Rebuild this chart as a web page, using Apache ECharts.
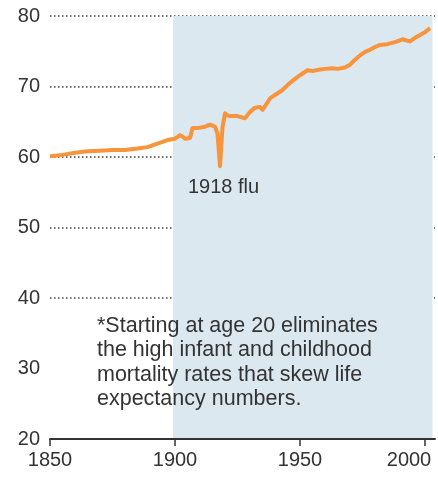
<!DOCTYPE html>
<html>
<head>
<meta charset="utf-8">
<script src="https://cdn.jsdelivr.net/npm/echarts@6/dist/echarts.min.js"></script>
<style>
  html, body { margin: 0; padding: 0; background: #fff; }
  #chart { width: 438px; height: 479px; }
</style>
</head>
<body>
<div id="chart"></div>
<script>
// life expectancy at age 20 (years)
var years = [1850, 1855, 1860, 1865, 1870, 1875, 1880, 1885, 1889, 1893, 1897, 1900,
  1902, 1903, 1904, 1906, 1907, 1909, 1912, 1914, 1916, 1917, 1918, 1919, 1920, 1921,
  1922, 1925, 1928, 1930, 1932, 1934, 1935, 1936, 1938, 1940, 1943, 1945, 1947, 1950,
  1953, 1955, 1958, 1960, 1963, 1965, 1968, 1970, 1972, 1974, 1976, 1978, 1980, 1982,
  1985, 1988, 1991, 1992, 1994, 1996, 1998, 2000, 2002];
var values = [60.1, 60.3, 60.6, 60.8, 60.9, 61.0, 61.0, 61.2, 61.4, 61.9, 62.4, 62.6,
  63.1, 62.9, 62.6, 62.7, 64.1, 64.1, 64.3, 64.6, 64.3, 63.3, 58.7, 64.2, 66.2, 65.9,
  65.8, 65.8, 65.5, 66.4, 67.0, 67.1, 66.7, 67.2, 68.3, 68.8, 69.5, 70.2, 70.8, 71.6,
  72.3, 72.2, 72.4, 72.5, 72.6, 72.5, 72.7, 73.1, 73.8, 74.4, 74.9, 75.2, 75.6, 75.9,
  76.0, 76.3, 76.7, 76.6, 76.4, 76.9, 77.3, 77.7, 78.3];
var xTicks = [1850, 1900, 1950, 2000];
var yTicks = [20, 30, 40, 50, 60, 70, 80];
var shadeRange = [1899.2, 2003];
var fluLabel = '1918 flu';
var noteLines = [
  '*Starting at age 20 eliminates',
  'the high infant and childhood',
  'mortality rates that skew life',
  'expectancy numbers.'
];

var font = '"Liberation Sans", Arial, Helvetica, sans-serif';
var chart = echarts.init(document.getElementById('chart'));

var lineData = years.map(function (y, i) { return [y, values[i]]; });

var option = {
  animation: false,
  grid: { left: 50, right: 3, top: 16, bottom: 40, containLabel: false, outerBoundsMode: 'none' },
  xAxis: {
    type: 'value',
    min: 1850,
    max: 2004,
    interval: 50,
    axisLine: { show: true, onZero: false, lineStyle: { color: '#333', width: 2 } },
    axisTick: { show: true, length: 7, lineStyle: { color: '#333', width: 1.5 },
      customValues: xTicks },
    axisLabel: {
      color: '#333', fontSize: 20, fontFamily: font, margin: 11,
      customValues: xTicks,
      // last label is pushed left so it stays inside the picture
      formatter: function (v) { return v === 2000 ? '{r|' + v + '}' : String(v); },
      rich: { r: { fontSize: 20, fontFamily: font, color: '#333', padding: [0, 32, 0, 0] } }
    },
    splitLine: { show: false }
  },
  yAxis: {
    type: 'value',
    min: 20,
    max: 80,
    interval: 10,
    axisLine: { show: false },
    axisTick: { show: false },
    axisLabel: { color: '#333', fontSize: 20, fontFamily: font, margin: 10 },
    splitLine: {
      show: true,
      lineStyle: {
        // the 30 line is cut short by the note, drawn separately below
        color: yTicks.map(function (t) { return (t === 30 || t === 20) ? 'rgba(0,0,0,0)' : '#444'; }),
        width: 1.5,
        type: [1.5, 2.5]
      }
    }
  },
  series: [
    {
      type: 'line',
      data: lineData,
      showSymbol: false,
      smooth: false,
      lineStyle: { color: '#f7943c', width: 4, join: 'round' },
      z: 5,
      markArea: {
        silent: true,
        itemStyle: { color: '#dce8f0' },
        data: [[{ xAxis: shadeRange[0], yAxis: 20 }, { xAxis: shadeRange[1], yAxis: 80 }]],
        z: 0
      },
      markLine: {
        silent: true,
        symbol: 'none',
        label: { show: false },
        lineStyle: { color: '#444', width: 1.5, type: [1.5, 2.5] },
        data: [[{ coord: [1849.5, 30] }, { coord: [1864, 30] }]]
      }
    }
  ],
  graphic: [
    {
      type: 'text',
      left: 188,
      top: 177,
      z: 100,
      style: { text: fluLabel, fill: '#333', fontSize: 20, fontFamily: font }
    },
    {
      type: 'text',
      left: 97,
      top: 314,
      z: 100,
      style: {
        text: noteLines.join('\n'),
        fill: '#333',
        fontSize: 21.5,
        lineHeight: 24.3,
        fontFamily: font
      }
    }
  ]
};
option && chart.setOption(option);
</script>
</body>
</html>
